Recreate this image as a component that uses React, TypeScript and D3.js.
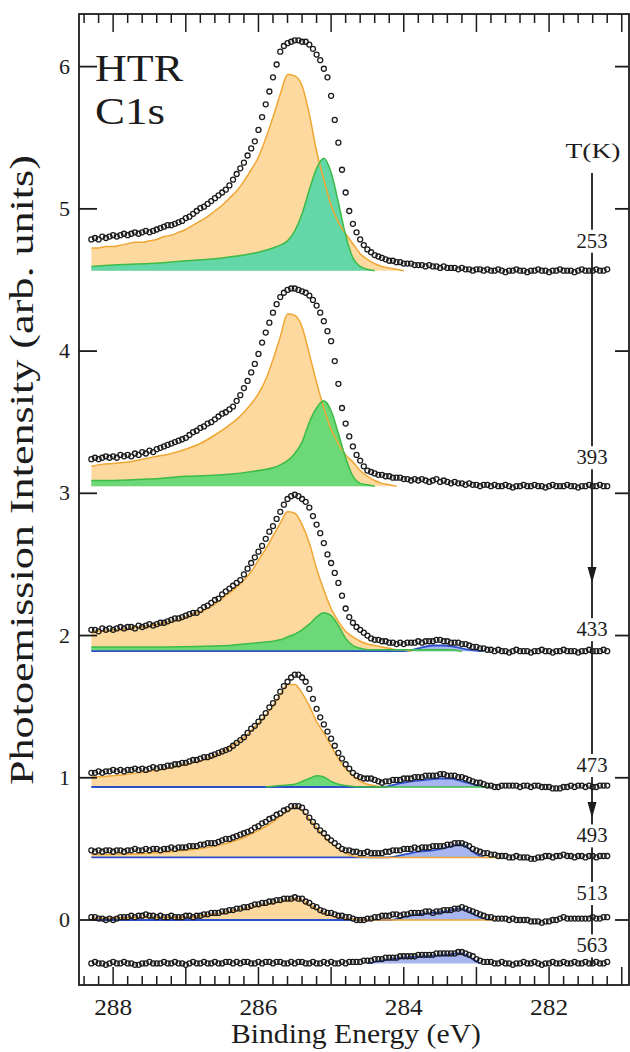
import * as d3 from 'd3'

// temperature of each spectrum, top to bottom, and where its trace sits on the y axis
const temps = ['253', '393', '433', '473', '493', '513', '563']
const offsets = [4.565, 3.05, 1.89, 0.935, 0.44, 0.0, -0.305]

// binding-energy sampling of the measured points: 288.30 eV down to 281.20 eV in 0.05 eV steps
const energies = d3.range(143).map(i => +(288.3 - i * 0.05).toFixed(2))

// measured intensity above each trace's offset, in hundredths of an arb. unit
const s253 = [
  22, 23, 22, 24, 23, 24, 25, 24, 25, 26,
  25, 26, 27, 26, 27, 28, 27, 28, 29, 30,
  31, 32, 32, 33, 34, 35, 37, 38, 40, 42,
  44, 45, 47, 49, 51, 53, 55, 57, 60, 64,
  68, 72, 76, 81, 86, 91, 99, 108, 117, 126,
  136, 145, 154, 158, 160, 161, 162, 162, 161, 161,
  159, 156, 152, 148, 142, 136, 123, 106, 90, 71,
  55, 42, 33, 27, 22, 18, 15, 13, 11, 10,
  9, 8, 7, 7, 6, 6, 5, 5, 5, 4,
  4, 4, 3, 4, 3, 3, 2, 3, 2, 2,
  2, 1, 2, 1, 1, 0, 1, 1, 0, 1,
  0, 0, 1, 0, -1, 0, 0, 1, 0, 0,
  -1, 0, 0, 1, 0, 0, -1, 0, 0, 1,
  0, 0, 0, -1, 0, 1, 0, 0, 0, 1,
  0, 0, 1,
]
const s393 = [
  19, 20, 19, 20, 21, 20, 21, 20, 22, 21,
  22, 21, 23, 22, 24, 23, 25, 24, 26, 27,
  28, 29, 30, 31, 32, 33, 34, 36, 38, 39,
  41, 42, 44, 45, 47, 49, 51, 52, 54, 56,
  60, 64, 69, 74, 80, 86, 93, 101, 108, 115,
  122, 128, 133, 136, 138, 139, 139, 138, 137, 136,
  134, 131, 127, 122, 116, 109, 102, 88, 72, 55,
  44, 35, 28, 22, 18, 14, 11, 10, 9, 8,
  8, 7, 7, 6, 6, 6, 5, 5, 4, 5,
  4, 5, 4, 3, 4, 5, 3, 4, 3, 2,
  3, 2, 2, 1, 2, 1, 1, 0, 1, 1,
  0, 1, 0, 0, 1, 0, -1, 0, 0, 1,
  0, 0, 1, 0, 0, -1, 0, 1, 0, 0,
  0, 1, 0, 0, -1, 0, 0, 1, 0, 0,
  1, 0, 0,
]
const s433 = [
  15, 15, 14, 16, 15, 16, 15, 16, 17, 16,
  17, 17, 16, 18, 17, 18, 19, 18, 19, 20,
  20, 21, 22, 23, 23, 24, 25, 26, 27, 27,
  29, 31, 32, 34, 36, 37, 40, 42, 44, 46,
  48, 50, 54, 58, 62, 66, 70, 74, 79, 84,
  88, 93, 98, 103, 107, 109, 110, 109, 107, 105,
  101, 95, 89, 83, 76, 68, 62, 55, 48, 39,
  30, 24, 20, 17, 15, 13, 11, 9, 8, 8,
  7, 7, 6, 6, 5, 6, 5, 6, 6, 6,
  7, 6, 7, 7, 7, 8, 8, 7, 7, 6,
  6, 6, 5, 5, 4, 3, 3, 2, 2, 1,
  1, 0, 1, 0, 0, -1, 0, 1, 0, 0,
  0, -1, 0, 0, 1, 0, 0, -1, 0, 0,
  1, 0, 0, 0, -1, 0, 0, 1, 0, 0,
  0, 1, 0,
]
const s473 = [
  10, 10, 11, 10, 11, 11, 12, 11, 12, 11,
  12, 12, 13, 12, 13, 12, 13, 14, 13, 14,
  14, 15, 15, 16, 16, 17, 17, 18, 19, 19,
  20, 21, 21, 22, 23, 24, 25, 26, 27, 29,
  31, 33, 35, 38, 41, 43, 46, 49, 52, 56,
  59, 63, 67, 71, 74, 77, 79, 79, 77, 74,
  69, 62, 55, 49, 44, 39, 34, 29, 24, 20,
  16, 13, 10, 8, 7, 6, 6, 6, 5, 4,
  3, 4, 4, 5, 5, 5, 6, 6, 6, 7,
  7, 7, 8, 8, 8, 8, 9, 9, 8, 8,
  8, 7, 7, 6, 5, 4, 3, 3, 2, 1,
  1, 0, 0, 1, 1, 1, 1, 1, 0, 1,
  1, 0, 1, 1, 0, 0, 0, -1, -1, -1,
  0, 0, 1, 0, 1, 1, 0, 1, 0, 0,
  1, 1, 1,
]
const s493 = [
  5, 4, 5, 4, 5, 5, 4, 5, 5, 4,
  5, 5, 6, 5, 5, 6, 5, 6, 6, 5,
  6, 6, 7, 6, 7, 7, 7, 8, 8, 8,
  9, 9, 10, 10, 10, 11, 12, 13, 13, 14,
  15, 16, 17, 18, 19, 21, 22, 24, 25, 27,
  28, 30, 31, 33, 34, 36, 36, 36, 35, 32,
  28, 25, 22, 19, 17, 14, 12, 10, 8, 6,
  5, 5, 4, 4, 3, 3, 4, 3, 3, 3,
  3, 4, 4, 5, 5, 5, 6, 6, 6, 7,
  6, 7, 7, 7, 8, 8, 8, 8, 9, 9,
  10, 10, 10, 9, 8, 6, 5, 4, 3, 3,
  2, 2, 1, 1, 1, 0, 0, 1, 0, 0,
  0, -1, -1, 0, 0, 1, 1, 0, 1, 1,
  2, 1, 1, 0, 1, 1, 0, 1, 1, 0,
  1, 1, 1,
]
const s513 = [
  2, 2, 1, 1, 0, 1, 0, 1, 2, 2,
  2, 3, 2, 3, 3, 4, 3, 3, 2, 3,
  2, 2, 3, 2, 2, 2, 3, 3, 2, 3,
  3, 4, 4, 5, 5, 5, 6, 6, 7, 7,
  8, 8, 9, 9, 10, 11, 11, 12, 12, 13,
  13, 14, 14, 15, 15, 15, 16, 15, 15, 13,
  12, 10, 9, 7, 6, 5, 5, 4, 3, 3,
  2, 2, 1, 0, 0, 0, 1, 1, 2, 2,
  3, 3, 3, 4, 4, 3, 4, 4, 5, 5,
  5, 5, 6, 6, 5, 6, 6, 7, 7, 7,
  8, 8, 9, 8, 7, 6, 5, 4, 3, 2,
  2, 1, 1, 1, 1, 0, 1, 0, 0, 0,
  0, -1, -1, -1, -2, -1, -1, 0, 0, 1,
  2, 1, 1, 1, 1, 1, 1, 1, 2, 1,
  1, 2, 2,
]
const s563 = [
  0, 1, 0, 0, -1, 0, 1, 0, 0, 1,
  0, 0, -1, -1, 0, 0, 1, 0, 0, 0,
  1, 0, 0, 1, 0, 0, -1, 0, 1, 0,
  0, 1, 0, 0, 1, 0, 0, 1, 1, 0,
  1, 0, 1, 1, 0, 0, 1, 0, 1, 1,
  0, 1, 1, 0, 0, 1, 0, 1, 1, 0,
  0, 1, 0, 0, 1, 0, 1, 0, 0, 1,
  0, 1, 1, 1, 1, 2, 2, 2, 3, 3,
  3, 4, 4, 4, 4, 5, 5, 5, 5, 5,
  6, 6, 6, 6, 6, 7, 7, 7, 7, 7,
  7, 8, 8, 7, 6, 5, 3, 2, 1, 1,
  1, 0, 0, 1, 0, 0, -1, 0, 0, 1,
  0, 0, 1, 0, -1, 0, 0, 1, 0, 0,
  1, 0, 0, 1, 0, 0, 1, 0, 0, 1,
  0, 0, 1,
]
const spectra = [s253, s393, s433, s473, s493, s513, s563]

// fitted components: [binding energy, hundredths above the trace offset]
const orange253 = [[288.3, 16], [288.2, 16], [288.1, 17], [288.0, 17], [287.9, 18], [287.8, 19], [287.7, 20], [287.6, 20], [287.5, 21], [287.4, 22], [287.3, 24], [287.2, 25], [287.1, 27], [287.0, 29], [286.9, 32], [286.8, 35], [286.7, 38], [286.6, 42], [286.5, 46], [286.4, 51], [286.3, 56], [286.2, 63], [286.1, 71], [286.0, 80], [285.9, 93], [285.8, 108], [285.7, 124], [285.6, 138], [285.5, 137], [285.4, 130], [285.3, 110], [285.2, 84], [285.1, 64], [285.0, 46], [284.9, 34], [284.8, 26], [284.7, 19], [284.6, 12], [284.5, 8], [284.4, 5], [284.3, 3], [284.2, 2], [284.1, 1], [284.0, 0]]
const green253 = [[288.3, 3], [288.0, 4], [287.5, 5], [287.0, 7], [286.5, 9], [286.2, 11], [286.0, 13], [285.8, 16], [285.7, 18], [285.6, 21], [285.5, 28], [285.4, 40], [285.3, 57], [285.2, 72], [285.1, 79], [285.0, 69], [284.9, 48], [284.8, 25], [284.7, 9], [284.6, 3], [284.5, 1], [284.4, 0]]
const orange393 = [[288.3, 14], [288.2, 15], [288.0, 16], [287.8, 17], [287.6, 19], [287.4, 21], [287.2, 23], [287.0, 26], [286.8, 30], [286.6, 36], [286.4, 43], [286.3, 47], [286.2, 52], [286.1, 58], [286.0, 65], [285.9, 75], [285.8, 89], [285.7, 105], [285.6, 121], [285.5, 120], [285.4, 112], [285.3, 93], [285.2, 73], [285.1, 55], [285.0, 40], [284.9, 30], [284.8, 22], [284.7, 17], [284.6, 11], [284.5, 7], [284.4, 4], [284.3, 2], [284.2, 1], [284.1, 0]]
const green393 = [[288.3, 4], [288.0, 4], [287.5, 5], [287.0, 7], [286.5, 8], [286.0, 11], [285.8, 13], [285.7, 15], [285.6, 18], [285.5, 23], [285.4, 31], [285.3, 45], [285.2, 55], [285.1, 60], [285.0, 53], [284.9, 37], [284.8, 20], [284.7, 7], [284.6, 2], [284.5, 1], [284.4, 0]]
const orange433 = [[288.3, 13], [288.2, 14], [288.1, 14], [288.0, 15], [287.9, 15], [287.8, 16], [287.7, 17], [287.6, 17], [287.5, 18], [287.4, 19], [287.3, 20], [287.2, 21], [287.1, 22], [287.0, 24], [286.9, 26], [286.8, 28], [286.7, 30], [286.6, 33], [286.5, 37], [286.4, 41], [286.3, 45], [286.2, 50], [286.1, 56], [286.0, 64], [285.9, 72], [285.8, 81], [285.7, 90], [285.6, 98], [285.5, 97], [285.4, 89], [285.3, 76], [285.2, 58], [285.1, 43], [285.0, 30], [284.9, 21], [284.8, 14], [284.7, 10], [284.6, 7], [284.5, 5], [284.4, 4], [284.3, 3], [284.2, 2], [284.1, 1], [284.0, 1], [283.9, 0]]
const green433 = [[288.3, 3], [287.3, 3], [286.4, 4], [286.2, 5], [286.0, 6], [285.8, 7], [285.7, 8], [285.6, 10], [285.5, 12], [285.4, 15], [285.3, 19], [285.2, 24], [285.1, 27], [285.0, 25], [284.9, 18], [284.8, 9], [284.7, 4], [284.6, 2], [284.5, 1], [283.4, 1], [283.2, 0]]
const blue433 = [[288.3, 0], [284.0, 0], [283.8, 2], [283.6, 4], [283.45, 4], [283.3, 3], [283.1, 1], [282.9, 0]]
const orange473 = [[288.3, 7], [288.0, 8], [287.5, 11], [287.0, 16], [286.6, 22], [286.4, 28], [286.2, 35], [286.0, 45], [285.8, 57], [285.7, 65], [285.6, 72], [285.5, 72], [285.4, 66], [285.3, 57], [285.2, 46], [285.1, 38], [285.0, 29], [284.9, 20], [284.8, 13], [284.7, 8], [284.6, 4], [284.5, 2], [284.4, 1], [284.3, 0]]
const green473 = [[285.9, 0], [285.7, 1], [285.5, 2], [285.4, 4], [285.3, 6], [285.2, 8], [285.1, 7], [285.0, 4], [284.9, 2], [284.8, 1], [284.6, 0], [282.8, 0]]
const blue473 = [[288.3, 0], [284.3, 0], [284.1, 2], [283.9, 4], [283.7, 5], [283.5, 6], [283.35, 6], [283.2, 4], [283.05, 2], [282.9, 0]]
const orange493 = [[288.3, 2], [287.5, 3], [287.0, 5], [286.5, 9], [286.2, 14], [286.0, 19], [285.8, 25], [285.7, 29], [285.6, 33], [285.5, 35], [285.45, 35], [285.4, 33], [285.3, 27], [285.2, 21], [285.1, 15], [285.0, 10], [284.9, 6], [284.8, 3], [284.7, 1], [284.5, 0], [282.7, 0]]
const blue493 = [[288.3, 0], [284.2, 0], [284.0, 2], [283.8, 4], [283.6, 5], [283.4, 7], [283.25, 9], [283.15, 8], [283.05, 4], [282.95, 1], [282.9, 0]]
const orange513 = [[288.3, 1], [287.5, 2], [287.0, 2], [286.8, 3], [286.5, 5], [286.2, 8], [286.0, 10], [285.8, 12], [285.6, 14], [285.5, 15], [285.4, 14], [285.3, 11], [285.2, 8], [285.1, 5], [285.0, 3], [284.9, 2], [284.8, 1], [284.6, 0], [282.7, 0]]
const blue513 = [[288.3, 0], [284.2, 0], [284.0, 2], [283.8, 4], [283.6, 5], [283.4, 6], [283.25, 8], [283.1, 6], [283.0, 3], [282.9, 1], [282.8, 0]]
const blue563 = [[284.5, 0], [284.3, 2], [284.0, 4], [283.7, 5], [283.4, 6], [283.25, 7], [283.15, 6], [283.05, 3], [282.95, 0]]

const fits = [
  { row: 0, kind: 'orange', knots: orange253 },
  { row: 0, kind: 'green', knots: green253 },
  { row: 1, kind: 'orange', knots: orange393 },
  { row: 1, kind: 'green', knots: green393 },
  { row: 2, kind: 'orange', knots: orange433 },
  { row: 2, kind: 'green', knots: green433 },
  { row: 2, kind: 'blue', knots: blue433 },
  { row: 3, kind: 'orange', knots: orange473 },
  { row: 3, kind: 'green', knots: green473 },
  { row: 3, kind: 'blue', knots: blue473 },
  { row: 4, kind: 'orange', knots: orange493 },
  { row: 4, kind: 'blue', knots: blue493 },
  { row: 5, kind: 'orange', knots: orange513 },
  { row: 5, kind: 'blue', knots: blue513 },
  { row: 6, kind: 'blue', knots: blue563 },
]

const yTicks = [0, 1, 2, 3, 4, 5, 6]
const xLabels = [288, 286, 284, 282]

const fillOf = { orange: '#fdd9a0', green: '#6cd877', blue: '#a7b5f0' }
const strokeOf = { orange: '#f0a632', green: '#3cbb46', blue: '#2d4fcc' }
const teal = '#63d7a7'
const font = 'Liberation Serif, Times New Roman, Tinos, serif'
const ink = '#1c1c1c'

// how far above each trace its temperature label sits (px)
const labelLift = [23, 22, 15, 15, 15, 20, 11]

export default function App() {
  const left = 79, right = 629, top = 14, bottom = 985
  const x = d3.scaleLinear().domain([288.47, 280.9]).range([left, right])
  const y = d3.scaleLinear().domain([-0.457, 6.37]).range([bottom, top])
  const arrowX = 592

  const area = (row) => d3.area()
    .x(d => x(d[0]))
    .y0(y(offsets[row]))
    .y1(d => y(offsets[row] + d[1] / 100))
    .curve(d3.curveMonotoneX)
  const line = (row) => d3.line()
    .x(d => x(d[0]))
    .y(d => y(offsets[row] + d[1] / 100))
    .curve(d3.curveMonotoneX)

  const fillOrder = ['orange', 'blue', 'green']
  const strokeOrder = ['blue', 'orange', 'green']

  const minor = d3.range(38).map(i => +(288.4 - i * 0.2).toFixed(1))
  const isMajor = v => Math.abs(v - Math.round(v)) < 1e-6

  return (
    <svg width={630} height={1052} style={{ position: 'absolute', left: 0, top: 0, background: '#fff' }}>
      {/* fitted components */}
      {fillOrder.map(k => fits.filter(f => f.kind === k).map((f, i) =>
        <path key={'f' + k + i} d={area(f.row)(f.knots)}
          fill={k === 'green' && f.row === 0 ? teal : fillOf[k]} />))}
      {strokeOrder.map(k => fits.filter(f => f.kind === k).map((f, i) =>
        <path key={'s' + k + i} d={line(f.row)(f.knots)} fill="none"
          stroke={strokeOf[k]} strokeWidth={k === 'blue' ? 1.8 : 1.5} />))}

      {/* temperature arrow */}
      <line x1={arrowX} x2={arrowX} y1={173} y2={965} stroke={ink} strokeWidth={1.8} />
      {[583, 818].map(tip =>
        <path key={tip} d={`M${arrowX},${tip} L${arrowX - 4.5},${tip - 16} L${arrowX + 4.5},${tip - 16} Z`} fill={ink} />)}
      <text x={593} y={158} textAnchor="middle" fontFamily={font} fontSize={21}
        textLength={55} lengthAdjust="spacingAndGlyphs" fill={ink}>T(K)</text>
      {temps.map((t, i) => {
        const base = y(offsets[i]) - labelLift[i]
        return (
          <g key={t}>
            <rect x={arrowX - 18} y={base - 18} width={36} height={23} fill="#fff" />
            <text x={arrowX} y={base} textAnchor="middle" fontFamily={font} fontSize={21}
              textLength={31} lengthAdjust="spacingAndGlyphs" fill={ink}>{t}</text>
          </g>
        )
      })}

      {/* measured points */}
      {spectra.map((s, row) =>
        <g key={'d' + row} fill="none" stroke={ink} strokeWidth={1.3}>
          {s.map((v, i) =>
            <circle key={i} cx={x(energies[i])} cy={y(offsets[row] + v / 100)} r={2.5} />)}
        </g>)}

      {/* frame */}
      <rect x={left} y={top} width={right - left} height={bottom - top} fill="none" stroke={ink} strokeWidth={1.8} />
      {yTicks.map(t =>
        <g key={'y' + t}>
          <line x1={left} x2={left + 18} y1={y(t)} y2={y(t)} stroke={ink} strokeWidth={1.8} />
          <line x1={right - 14} x2={right} y1={y(t)} y2={y(t)} stroke={ink} strokeWidth={1.8} />
          <text x={70} y={y(t) + 7} textAnchor="end" fontFamily={font} fontSize={22} fill={ink}>{t}</text>
        </g>)}
      {minor.map(v => {
        const len = isMajor(v) ? 18 : 9
        return (
          <g key={'x' + v}>
            <line x1={x(v)} x2={x(v)} y1={top} y2={top + len} stroke={ink} strokeWidth={1.5} />
            <line x1={x(v)} x2={x(v)} y1={bottom} y2={bottom - len} stroke={ink} strokeWidth={1.5} />
          </g>
        )
      })}
      {xLabels.map(v =>
        <text key={'xl' + v} x={x(v)} y={1015} textAnchor="middle" fontFamily={font} fontSize={23}
          textLength={38} lengthAdjust="spacingAndGlyphs" fill={ink}>{v}</text>)}

      {/* titles */}
      <text x={356} y={1043} textAnchor="middle" fontFamily={font} fontSize={27}
        textLength={250} lengthAdjust="spacingAndGlyphs" fill={ink}>Binding Energy (eV)</text>
      <text transform="translate(33,470) rotate(-90)" textAnchor="middle" fontFamily={font} fontSize={34}
        textLength={630} lengthAdjust="spacingAndGlyphs" fill={ink}>Photoemission Intensity (arb. units)</text>
      <text x={95} y={81} fontFamily={font} fontSize={38} textLength={88} lengthAdjust="spacingAndGlyphs" fill={ink}>HTR</text>
      <text x={95} y={124} fontFamily={font} fontSize={38} textLength={70} lengthAdjust="spacingAndGlyphs" fill={ink}>C1s</text>
    </svg>
  )
}
